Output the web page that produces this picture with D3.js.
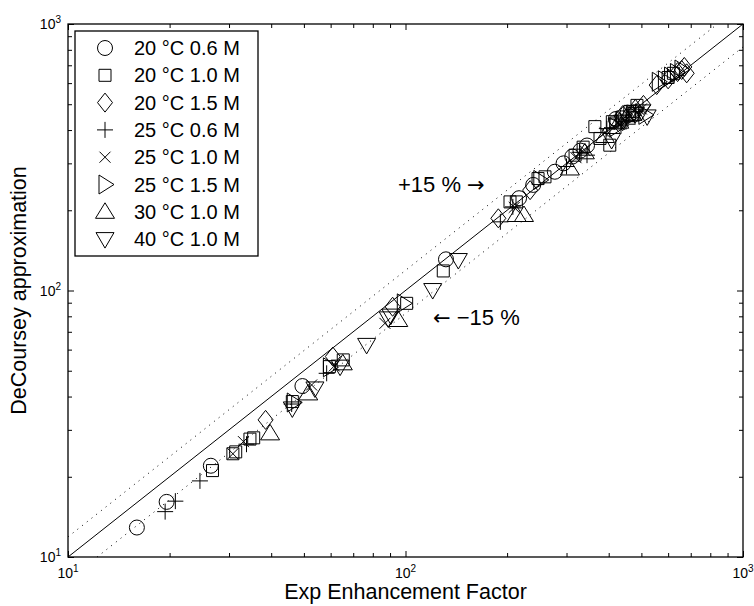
<!DOCTYPE html>
<html>
<head>
<meta charset="utf-8">
<script src="https://cdn.jsdelivr.net/npm/d3@7"></script>
<style>
  body { margin: 0; background: #fff; }
  text { font-family: "Liberation Sans", Arial, Helvetica, sans-serif; fill: #000; }
</style>
</head>
<body>
<div id="chart"></div>
<script>
// data: [exp enhancement factor, DeCoursey approximation]
var c20_06 = [[16.0,12.9],[19.6,16.1],[26.5,22.0],[49.5,43.8],[131.8,130.9],[217,222],[239,249],
  [277,279],[294,300],[312,318],[330,335],[345,350],[420,440],[455,465]];
var c20_10 = [[26.8,21.1],[30.8,24.4],[31.4,24.8],[34.6,27.7],[35.5,28.0],[46.2,38.3],[59.5,51.8],
  [65.4,54.9],[100.8,89.5],[129.4,118.4],[204,215],[213,215],[247,263],[259,267],[318,322],
  [336,345],[364,412],[377,372],[403,351],[410,430],[420,425],[440,448],[462,470],[472,455],
  [485,495],[600,630],[622,653]];
var c20_15 = [[38.5,32.7],[60.9,56.5],[91.6,86.9],[188.4,186.6],[234,238],[440,455],[480,480],
  [507,497],[555,590],[600,620],[640,660],[658,672],[681,653],[670,690]];
var c25_06 = [[19.4,14.8],[20.8,16.2],[24.6,19.3],[33.8,26.5],[46,37.5],[58.4,48.9],[191,181],
  [208,206],[300,292],[328,330],[345,322],[395,405],[420,440],[435,415],[450,430],[480,468]];
var c25_10 = [[30.8,24.4],[33.1,27.1],[52.7,44.2],[61.5,52.1],[86.9,75.3],[210,205],[320,315],
  [340,335],[390,392],[415,410],[430,420],[460,450],[500,480]];
var c25_15 = [[46.5,38.0],[59.5,51.5],[98.5,89.5],[250,260],[420,410],[470,455],[512,456],
  [561,607],[585,615],[610,635],[635,655],[655,675]];
var c30_10 = [[39.7,29.1],[51.5,41.1],[65.2,53.3],[95.2,77.5],[213.5,192],[224.4,192],[307,287],
  [340,330],[390,380],[430,430],[450,445],[470,460]];
var c40_10 = [[46.2,36.1],[53.9,42.9],[64.0,51.8],[76.7,62.5],[88.9,78.6],[90.5,80.5],[120.4,100.4],
  [143.4,130.1],[408,367],[440,430],[480,460],[500,470],[520,450]];

var seriesNames = ["20 \u00B0C 0.6 M", "20 \u00B0C 1.0 M", "20 \u00B0C 1.5 M", "25 \u00B0C 0.6 M",
  "25 \u00B0C 1.0 M", "25 \u00B0C 1.5 M", "30 \u00B0C 1.0 M", "40 \u00B0C 1.0 M"];
var seriesData = [c20_06, c20_10, c20_15, c25_06, c25_10, c25_15, c30_10, c40_10];
var seriesMarkers = ["circle", "square", "diamond", "plus", "cross", "triRight", "triUp", "triDown"];

// reference lines: y = x and the +/-15 % band
var bandFactors = [1.19, 0.82];
var majorTicks = [10, 100, 1000];
var tickExponents = ["1", "2", "3"];

var svgWidth = 754;
var svgHeight = 606;
var margin = { top: 24, right: 11, bottom: 49, left: 68 };
var width = svgWidth - margin.left - margin.right;
var height = svgHeight - margin.top - margin.bottom;

var svg = d3.select("#chart")
  .append("svg")
  .attr("width", svgWidth)
  .attr("height", svgHeight);

var chartGroup = svg.append("g")
  .attr("transform", `translate(${margin.left}, ${margin.top})`);

var xScale = d3.scaleLog().domain([10, 1000]).range([0, width]);
var yScale = d3.scaleLog().domain([10, 1000]).range([height, 0]);

// all ticks: 10..90, 100..900, 1000
var allTicks = [];
[10, 100].forEach(function (d) {
  for (var k = 1; k < 10; k++) allTicks.push(d * k);
});
allTicks.push(1000);

function tickLen(d) { return majorTicks.indexOf(d) >= 0 ? 6 : 4; }

function styleAxis(g, sign) {
  g.select(".domain").remove();
  g.selectAll(".tick line")
    .attr("stroke", "#000")
    .attr("stroke-width", 1)
    .each(function (d) {
      var el = d3.select(this);
      if (el.attr("x2") !== null && +el.attr("x2") !== 0) el.attr("x2", sign * tickLen(d));
      else el.attr("y2", sign * tickLen(d));
    });
  g.selectAll(".tick text").remove();
}

// bottom, top, left, right ticks (all pointing inward)
chartGroup.append("g").attr("transform", `translate(0, ${height})`)
  .call(d3.axisBottom(xScale).tickValues(allTicks).tickSize(-6).tickFormat(""))
  .call(g => styleAxis(g, -1));
chartGroup.append("g")
  .call(d3.axisTop(xScale).tickValues(allTicks).tickSize(-6).tickFormat(""))
  .call(g => styleAxis(g, 1));
chartGroup.append("g")
  .call(d3.axisLeft(yScale).tickValues(allTicks).tickSize(-6).tickFormat(""))
  .call(g => styleAxis(g, 1));
chartGroup.append("g").attr("transform", `translate(${width}, 0)`)
  .call(d3.axisRight(yScale).tickValues(allTicks).tickSize(-6).tickFormat(""))
  .call(g => styleAxis(g, -1));

// tick labels 10^n
majorTicks.forEach(function (t, i) {
  var tx = chartGroup.append("text")
    .attr("x", xScale(t))
    .attr("y", height + 21)
    .attr("text-anchor", "middle")
    .attr("font-size", "14px");
  tx.append("tspan").text("10");
  tx.append("tspan").attr("dy", "-6").attr("font-size", "10px").text(tickExponents[i]);

  var ty = chartGroup.append("text")
    .attr("x", -7)
    .attr("y", yScale(t) + 5)
    .attr("text-anchor", "end")
    .attr("font-size", "14px");
  ty.append("tspan").text("10");
  ty.append("tspan").attr("dy", "-6").attr("font-size", "10px").text(tickExponents[i]);
});

// reference lines
chartGroup.append("line")
  .attr("x1", xScale(10)).attr("y1", yScale(10))
  .attr("x2", xScale(1000)).attr("y2", yScale(1000))
  .attr("stroke", "#000").attr("stroke-width", 1);

bandFactors.forEach(function (f) {
  var x0 = f > 1 ? 10 : 10 / f;
  var x1 = f > 1 ? 1000 / f : 1000;
  chartGroup.append("line")
    .attr("x1", xScale(x0)).attr("y1", yScale(x0 * f))
    .attr("x2", xScale(x1)).attr("y2", yScale(x1 * f))
    .attr("stroke", "#000").attr("stroke-width", 1)
    .attr("stroke-dasharray", "1,5");
});

// marker shapes
function markerPath(type) {
  switch (type) {
    case "circle": return "M-7.5,0A7.5,7.5 0 1,0 7.5,0A7.5,7.5 0 1,0 -7.5,0Z";
    case "square": return "M-6,-6H6V6H-6Z";
    case "diamond": return "M0,-9.5L7.5,0L0,9.5L-7.5,0Z";
    case "plus": return "M-8,0H8M0,-8V8";
    case "cross": return "M-5.5,-5.5L5.5,5.5M-5.5,5.5L5.5,-5.5";
    case "triRight": return "M-6,-9.5L9,0L-6,9.5Z";
    case "triUp": return "M0,-9L9.5,6.5H-9.5Z";
    case "triDown": return "M0,9L9,-6.5H-9Z";
  }
}

seriesData.forEach(function (data, i) {
  chartGroup.selectAll(null)
    .data(data)
    .enter()
    .append("path")
    .attr("d", markerPath(seriesMarkers[i]))
    .attr("transform", d => `translate(${xScale(d[0])}, ${yScale(d[1])})`)
    .attr("fill", "none")
    .attr("stroke", "#000")
    .attr("stroke-width", 1);
});

// frame
chartGroup.append("rect")
  .attr("width", width).attr("height", height)
  .attr("fill", "none").attr("stroke", "#000").attr("stroke-width", 1.3);

// annotations
var plusLabel = chartGroup.append("text")
  .attr("x", 330).attr("y", 168)
  .attr("font-size", "22px");
plusLabel.append("tspan").text("+15 % ");
plusLabel.append("tspan").attr("font-family", "DejaVu Sans").attr("font-size", "21px").text("\u2192");

var minusLabel = chartGroup.append("text")
  .attr("x", 365).attr("y", 301)
  .attr("font-size", "22px");
minusLabel.append("tspan").attr("font-family", "DejaVu Sans").attr("font-size", "21px").text("\u2190");
minusLabel.append("tspan").text(" \u221215 %");

// legend
var legend = chartGroup.append("g").attr("transform", "translate(7, 7)");
legend.append("rect")
  .attr("width", 183).attr("height", 225)
  .attr("fill", "#fff").attr("stroke", "#000").attr("stroke-width", 1.3);

seriesNames.forEach(function (name, i) {
  var ly = 17 + i * 27.3;
  legend.append("path")
    .attr("d", markerPath(seriesMarkers[i]))
    .attr("transform", `translate(30, ${ly})`)
    .attr("fill", "none").attr("stroke", "#000").attr("stroke-width", 1);
  legend.append("text")
    .attr("x", 59).attr("y", ly + 7)
    .attr("font-size", "20px")
    .text(name);
});

// axis titles
svg.append("text")
  .attr("x", margin.left + width / 2)
  .attr("y", 599)
  .attr("text-anchor", "middle")
  .attr("font-size", "21.5px")
  .text("Exp Enhancement Factor");

svg.append("text")
  .attr("transform", "rotate(-90)")
  .attr("x", -(margin.top + height / 2))
  .attr("y", 26)
  .attr("text-anchor", "middle")
  .attr("font-size", "21.5px")
  .text("DeCoursey approximation");
</script>
</body>
</html>
